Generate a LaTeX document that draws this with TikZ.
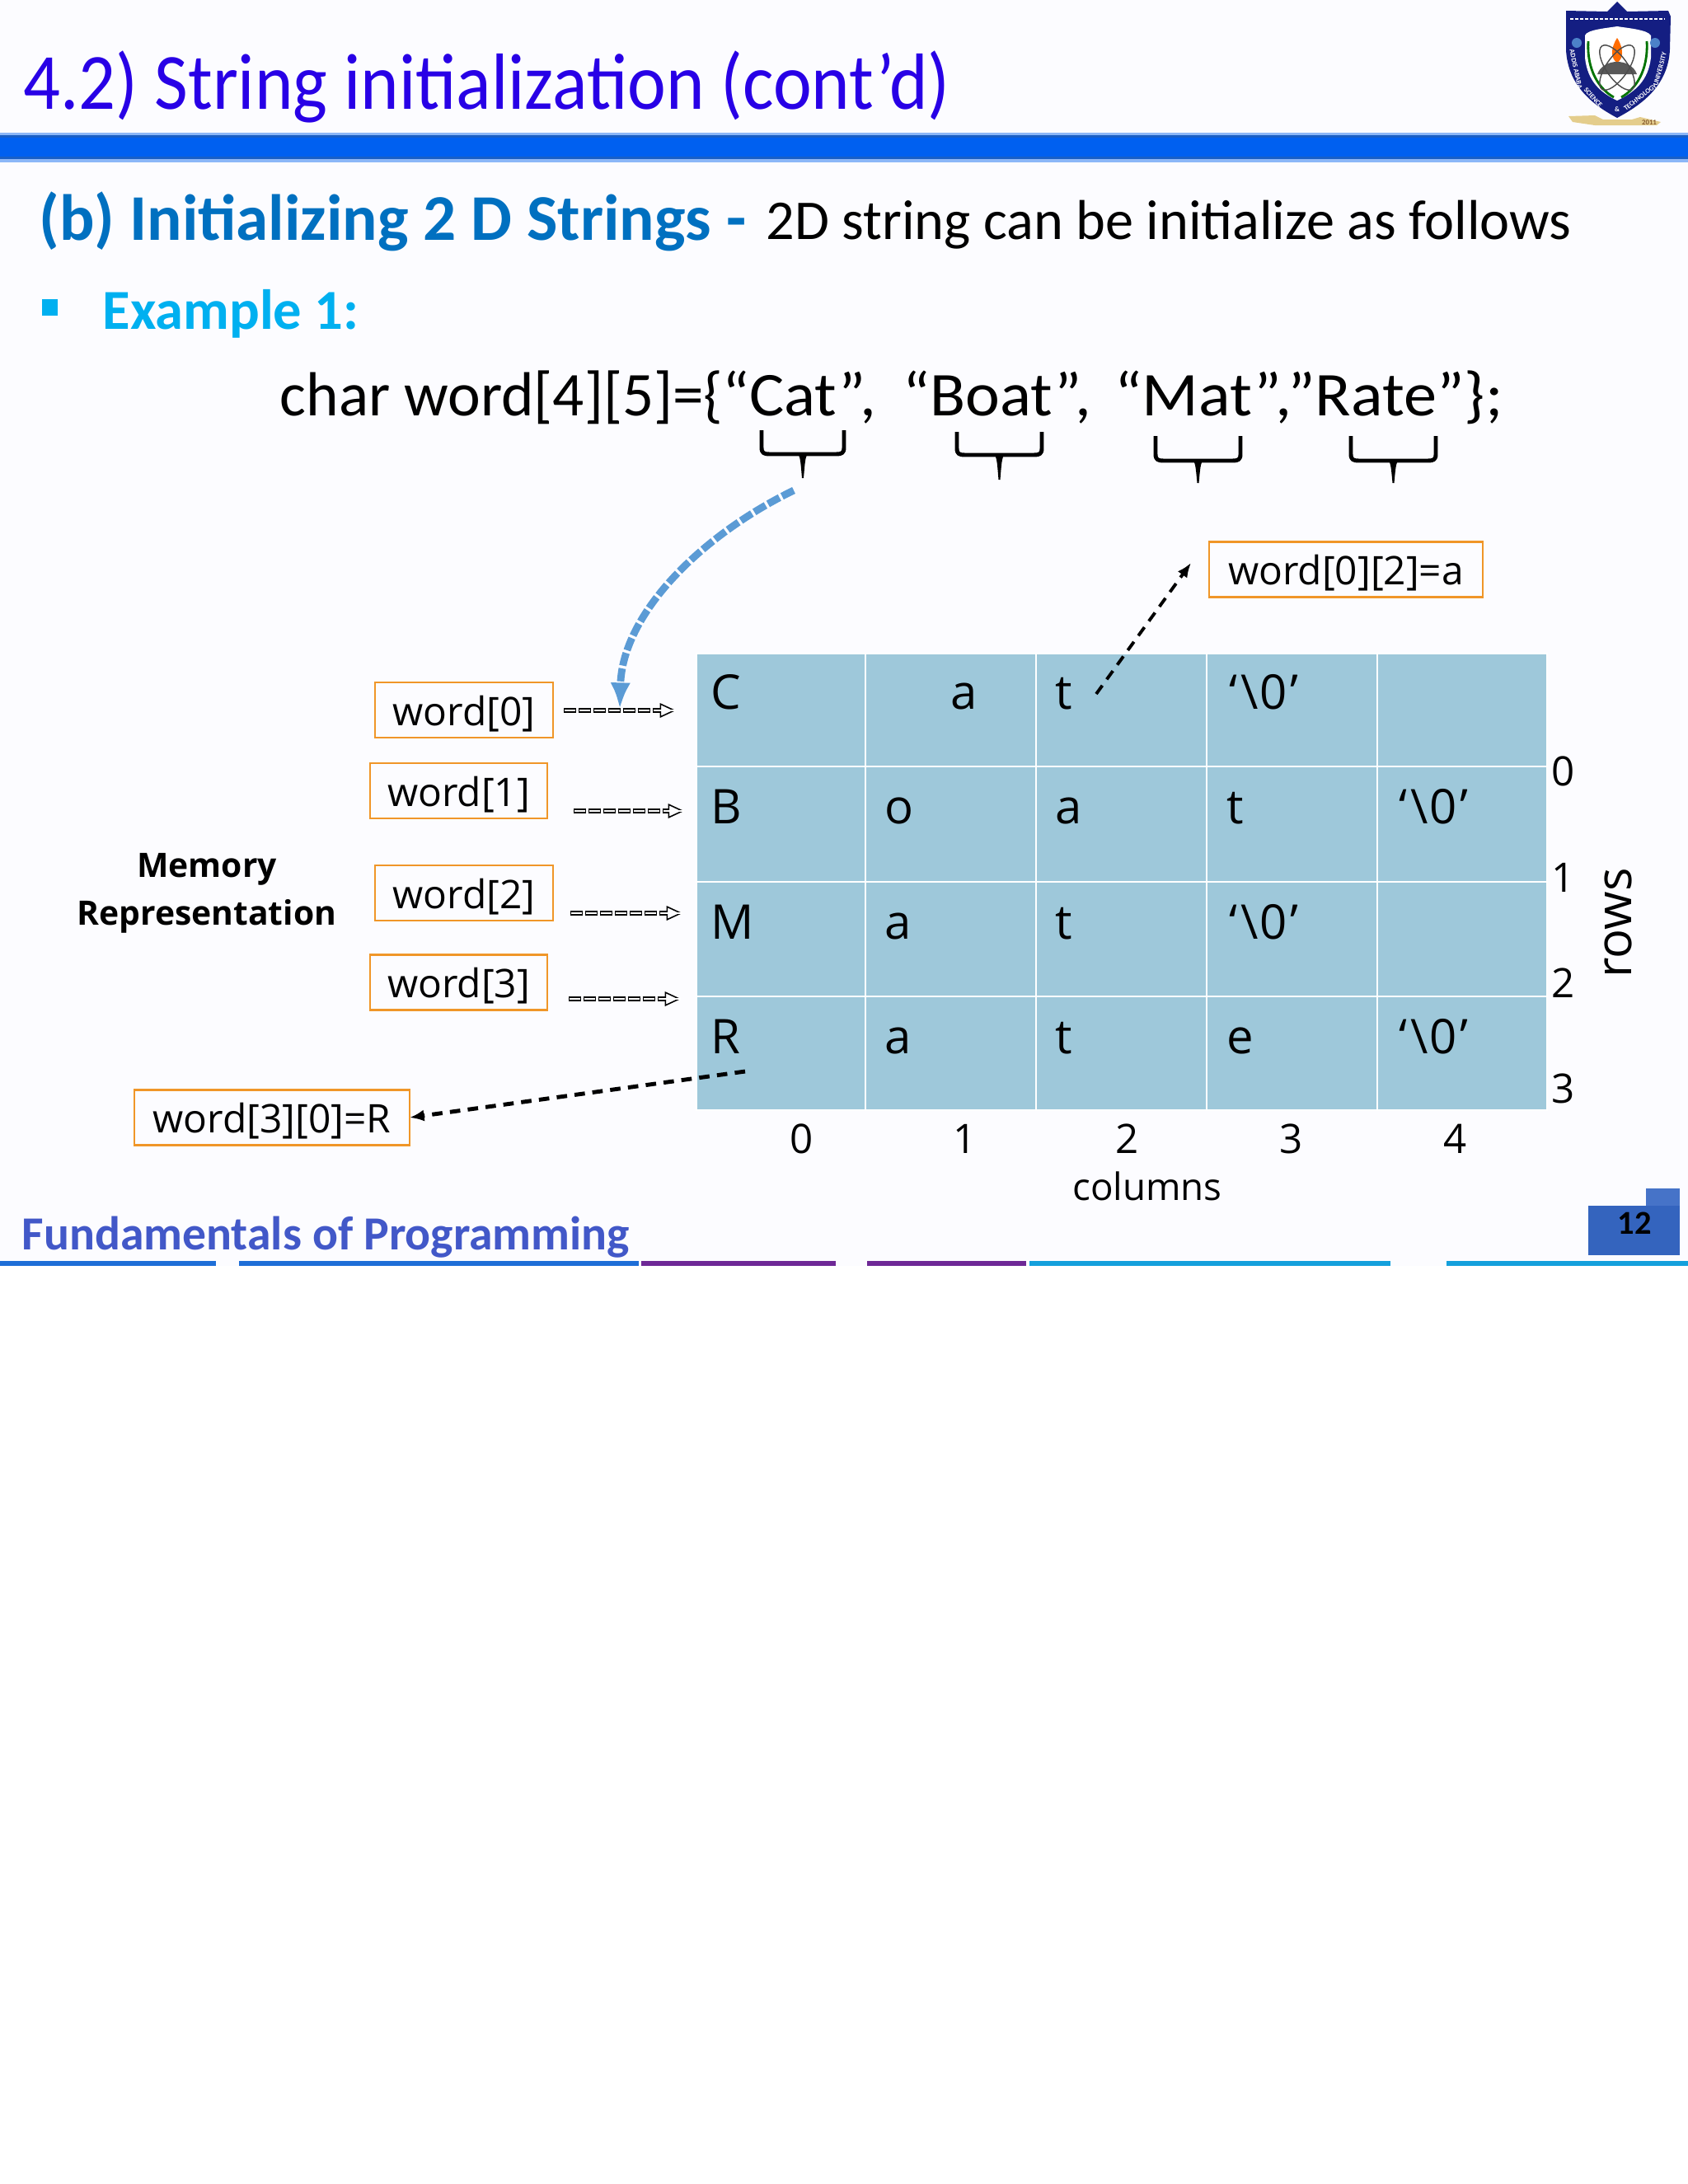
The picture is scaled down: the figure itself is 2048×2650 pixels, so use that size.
\documentclass[tikz,border=0pt]{standalone}
\usepackage{fontspec}
\setmainfont{Carlito}
\newfontfamily\cellfont{Open Sans}
\usepackage{tikz}
\usetikzlibrary{calc, positioning, arrows.meta}
\definecolor{TitleBlue}{RGB}{40,0,230}
\definecolor{BarBlue}{RGB}{0,96,240}
\definecolor{HeadBlue}{RGB}{0,112,192}
\definecolor{BulletCyan}{RGB}{0,176,240}
\definecolor{CellBlue}{RGB}{158,200,218}
\definecolor{BoxOrange}{RGB}{240,150,40}
\definecolor{CurveBlue}{RGB}{91,155,213}
\definecolor{FootBlue}{RGB}{66,88,200}
\definecolor{Navy}{RGB}{20,30,130}
\definecolor{LineBlue}{RGB}{30,110,215}
\definecolor{LinePurple}{RGB}{110,40,150}
\definecolor{LineCyan}{RGB}{20,160,220}
\definecolor{PageBlue}{RGB}{52,100,190}
\definecolor{PageLight}{RGB}{70,115,200}
\definecolor{RibbonGold}{RGB}{228,205,140}
\newcommand{\hsq}[2]{\scalebox{#1}[1]{#2}}
\newcommand{\nullch}{‘\kern1pt\textbackslash\kern0.6pt0\kern1pt’}
\tikzset{
  gridcell/.style={draw=white, line width=0.75pt, fill=CellBlue, inner sep=0pt, outer sep=0pt, anchor=north west},
  celltext/.style={font=\cellfont\fontsize{16.5}{16.5}\selectfont, anchor=base west, inner sep=0pt},
  wordbox/.style={draw=BoxOrange, line width=0.75pt, inner sep=0pt, outer sep=0pt, text height=0.52cm, text depth=0.15cm, font=\cellfont\fontsize{13.6}{13.6}\selectfont},
  axisnum/.style={font=\cellfont\fontsize{14}{14}\selectfont, anchor=base, inner sep=0pt},
  hollowarrow/.style={draw=black, line width=1.5pt, dash pattern=on 4.4pt off 0.7pt, -{Triangle[open, length=5.5pt, width=5pt, line width=0.45pt]}, postaction={draw=white, -, line width=0.55pt, dash pattern=on 3.6pt off 1.5pt, dash phase=4.7pt}},
  pointer/.style={draw=black, line width=1.1pt, dash pattern=on 3.6pt off 2.6pt, -{Latex[length=5pt, width=4pt]}},
  underbrace/.style={draw=black, line width=1.4pt, line join=round},
  crest/.style={inner sep=0pt, text=white, font=\bfseries\fontsize{2.4}{2.4}\selectfont},
  footline/.style={line width=1.5pt}
}
\begin{document}
\begin{tikzpicture}[x=0.01cm, y=-0.01cm]
  \useasboundingbox (0,0) rectangle (2048,2650);
  \fill[white] (0,0) rectangle (2048,2650);
  \fill[blue!1] (0,0) rectangle (2048,1536);

  % title bar
  \node[anchor=base west, inner sep=0pt, text=TitleBlue, font=\fontsize{27.5}{27.5}\selectfont] (title) at (28,132) {\hsq{0.916}{4.2) String initialization (cont’d)}};
  \fill[BarBlue!45] (0,161) rectangle (2048,197);
  \fill[BarBlue!80!black!90] (0,164) rectangle (2048,193);
  \fill[BarBlue] (0,167) rectangle (2048,190);

  % logo
  \fill[Navy] (1900,13) -- (1950,14) -- (1962,2) -- (1974,14) -- (2024,13) -- (2027,20) -- (2026,60) .. controls (2024,105) and (1990,128) .. (1962,143) .. controls (1934,128) and (1902,105) .. (1900,60) -- cycle;
  \fill[white] (1923,43) .. controls (1925,36) and (1950,34) .. (1962,32) .. controls (1974,34) and (1999,36) .. (2003,43) -- (2003,70) .. controls (2000,98) and (1983,112) .. (1962,122) .. controls (1941,112) and (1926,98) .. (1923,70) -- cycle;
  \draw[white, line width=0.7pt, dash pattern=on 1.2pt off 0.5pt] (1905,23) -- (2020,23);
  \fill[green!30!blue!70!white] (1913,52) circle (6);
  \fill[green!30!blue!70!white] (2008,52) circle (6);
  \node[crest, rotate=-78] (crestA) at (1912,84) {ADDIS ABABA};
  \node[crest, rotate=-48] (crestB) at (1933,118) {SCIENCE};
  \node[crest] (crestC) at (1962,133) {\&};
  \node[crest, rotate=38] (crestD) at (1990,118) {TECHNOLOGY};
  \node[crest, rotate=75] (crestE) at (2014,84) {UNIVERSITY};
  \draw[green!45!black, line width=0.8pt] (1927,50) .. controls (1925,85) and (1940,108) .. (1958,118);
  \draw[green!45!black, line width=0.8pt] (1998,50) .. controls (2000,85) and (1985,108) .. (1967,118);
  \fill[orange!85!red] (1962,46) .. controls (1953,60) and (1955,72) .. (1962,76) .. controls (1969,72) and (1971,60) .. (1962,46);
  \fill[black!65] (1938,90) .. controls (1945,70) and (1979,70) .. (1986,90) -- cycle;
  \draw[black!70, line width=0.4pt, rotate around={35:(1962,82)}] (1962,82) ellipse (13 and 32);
  \draw[black!70, line width=0.4pt, rotate around={-35:(1962,82)}] (1962,82) ellipse (13 and 32);
  \fill[RibbonGold] (1903,141) -- (1935,140) -- (1945,145) -- (1980,145) -- (1990,142) -- (2015,148) -- (2010,152) -- (1935,152) -- (1908,148) -- cycle;
  \node[inner sep=0pt, text=brown!70!black, font=\bfseries\fontsize{2.5}{2.5}\selectfont] (founded) at (2001,149) {2011};

  % heading lines
  \node[anchor=base west, inner sep=0pt, text=HeadBlue, font=\bfseries\fontsize{22.5}{22.5}\selectfont] (headb) at (47,291) {(b) Initializing 2 D Strings -};
  \node[anchor=base west, inner sep=0pt, font=\fontsize{19.4}{19.4}\selectfont] (headr) at (929,290) {2D string can be initialize as follows};
  \fill[BulletCyan] (51,363) rectangle (70,383);
  \node[anchor=base west, inner sep=0pt, text=BulletCyan, font=\bfseries\fontsize{19.5}{19.5}\selectfont] (example) at (124,399) {Example 1:};
  \node[anchor=base west, inner sep=0pt, font=\fontsize{21.5}{21.5}\selectfont] (code) at (339,504) {\makebox[5.36cm][l]{\hsq{0.995}{char word[4][5]=\{}}\makebox[2.19cm][l]{\hsq{1.047}{“Cat”,}}\makebox[2.57cm][l]{\hsq{1.047}{“Boat”,}}\hsq{1.062}{“Mat”,”Rate”\};}};

  % braces under the strings: left, right, top, bar, tip
  \foreach \lft/\rgt/\tp/\br/\tip in {924/1024/522/551/580, 1161/1264/524/552/582, 1402/1505/529/559/586, 1639/1742/529/559/586} {
    \draw[underbrace] (\lft,\tp) -- (\lft,\br-8) .. controls (\lft,\br-1) and (\lft+3,\br) .. (\lft+10,\br) -- (\rgt-10,\br) .. controls (\rgt-3,\br) and (\rgt,\br-1) .. (\rgt,\br-8) -- (\rgt,\tp);
    \fill ({(\lft+\rgt)/2-9},\br-2) .. controls ({(\lft+\rgt)/2-3},\br) and ({(\lft+\rgt)/2-3},\br+6) .. ({(\lft+\rgt)/2-1},\tip) -- ({(\lft+\rgt)/2+1},\tip) .. controls ({(\lft+\rgt)/2+3},\br+6) and ({(\lft+\rgt)/2+3},\br) .. ({(\lft+\rgt)/2+9},\br-2) -- cycle;
  }

  % array cells
  \foreach \x/\w in {845/205, 1050/207, 1257/207, 1464/207, 1671/206} {
    \foreach \y/\h in {793/137, 930/140, 1070/139, 1209/138} {
      \node[gridcell, minimum width=\w*0.01cm, minimum height=\h*0.01cm] (cell-\x-\y) at (\x,\y) {};
    }
  }
  % cell letters: x, baseline, text
  \foreach \x/\y/\txt in {862/860/C, 1153/860/a, 1280/860/t, 1491/860/\nullch,
                          862/999/B, 1073/999/o, 1280/999/a, 1488/999/t, 1697/999/\nullch,
                          862/1139/M, 1073/1139/a, 1280/1139/t, 1491/1139/\nullch,
                          862/1278/R, 1073/1278/a, 1280/1278/t, 1488/1278/e, 1697/1278/\nullch} {
    \node[celltext] (txt-\x-\y) at (\x,\y) {\txt};
  }

  % row and column numbers
  \foreach \y/\lbl in {953/0, 1082/1, 1210/2, 1338/3}
    \node[axisnum] (row\lbl) at (1897,\y) {\lbl};
  \foreach \x/\lbl in {973/0, 1171/1, 1368/2, 1567/3, 1766/4}
    \node[axisnum] (col\lbl) at (\x,1399) {\lbl};
  \node[axisnum, font=\cellfont\fontsize{13}{13}\selectfont] (columns) at (1392,1456) {columns};
  \node[axisnum, rotate=90, font=\cellfont\fontsize{17}{17}\selectfont] (rows) at (1979,1120) {rows};

  % labels
  \node[wordbox, minimum width=216*0.01cm] (word0) at (563,861.5) {word[0]};
  \node[wordbox, minimum width=215*0.01cm] (word1) at (556.5,959.5) {word[1]};
  \node[wordbox, minimum width=216*0.01cm] (word2) at (563,1083.5) {word[2]};
  \node[wordbox, minimum width=215*0.01cm] (word3) at (556.5,1192) {word[3]};
  \node[wordbox, minimum width=334*0.01cm] (wordR) at (330,1356) {word[3][0]=R};
  \node[wordbox, minimum width=332*0.01cm] (wordA) at (1633,691) {word[0][2]=a};
  \node[font=\cellfont\bfseries\fontsize{11.6}{11.6}\selectfont, anchor=base, inner sep=0pt] (memory) at (251,1064) {Memory};
  \node[font=\cellfont\bfseries\fontsize{11.6}{11.6}\selectfont, anchor=base, inner sep=0pt] (represent) at (251,1122) {Representation};

  % arrows
  \coordinate (arrA0) at (684,862);
  \coordinate (arrA1) at (820,862);
  \coordinate (arrB0) at (696,984);
  \coordinate (arrB1) at (830,984);
  \coordinate (arrC0) at (692,1108);
  \coordinate (arrC1) at (828,1108);
  \coordinate (arrD0) at (690,1212);
  \coordinate (arrD1) at (826,1212);
  \draw[hollowarrow] (arrA0) -- (arrA1);
  \draw[hollowarrow] (arrB0) -- (arrB1);
  \draw[hollowarrow] (arrC0) -- (arrC1);
  \draw[hollowarrow] (arrD0) -- (arrD1);
  \coordinate (curveS) at (963,595);
  \coordinate (curveE) at (752,860);
  \draw[draw=CurveBlue, line width=2.5pt, dash pattern=on 4.5pt off 1pt, -{Latex[length=9pt, width=7pt]}] (curveS) .. controls (850,650) and (755,745) .. (curveE);
  \coordinate (pickR) at (904,1300);
  \coordinate (pickA) at (1330,842);
  \coordinate (pickAend) at (1445,683);
  \draw[pointer, line width=1.4pt] (pickR) -- (wordR.east);
  \draw[pointer] (pickA) -- (pickAend);

  % footer
  \node[anchor=base west, inner sep=0pt, text=FootBlue, font=\bfseries\fontsize{16.4}{16.4}\selectfont] (footer) at (26,1516) {Fundamentals of Programming};
  \draw[footline, draw=LineBlue] (0,1533) -- (262,1533) (290,1533) -- (775,1533);
  \draw[footline, draw=LinePurple] (778,1533) -- (1014,1533) (1052,1533) -- (1245,1533);
  \draw[footline, draw=LineCyan] (1249,1533) -- (1687,1533) (1755,1533) -- (2048,1533);
  \fill[PageLight] (1997,1442) rectangle (2038,1463);
  \fill[PageBlue] (1927,1463) rectangle (2038,1523);
  \node[font=\bfseries\fontsize{11.5}{11.5}\selectfont, inner sep=0pt] (pagenum) at (1983,1484) {12};
\end{tikzpicture}
\end{document}
